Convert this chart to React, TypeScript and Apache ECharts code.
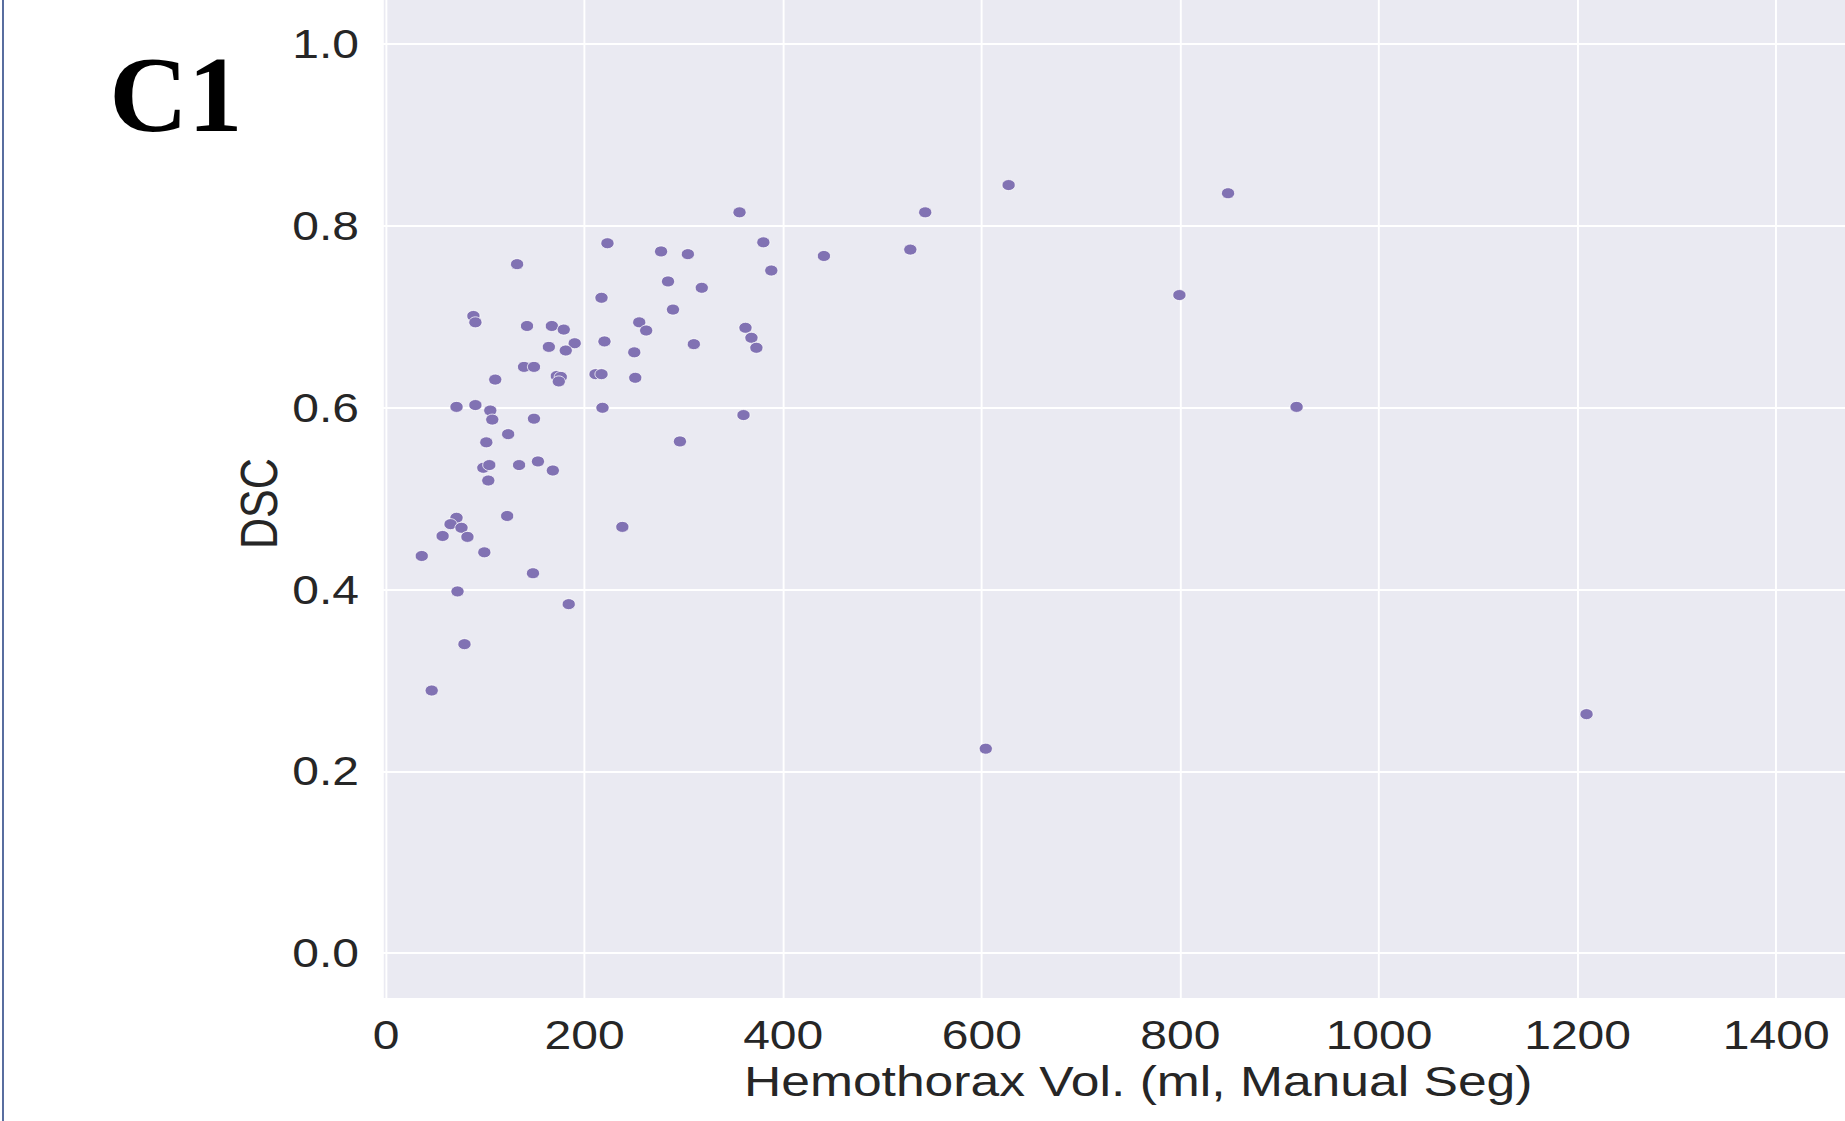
import React, { useEffect, useRef } from "react";
import * as echarts from "echarts";

// Hemothorax volume (ml, manual segmentation) for each case
const volumeMl = [
  356, 223, 277, 304, 380, 388, 132, 284, 318, 217,
  289, 88, 90, 142, 167, 179, 255, 262, 362, 368,
  373, 190, 220, 164, 181, 250, 310, 139, 149, 172,
  176, 174, 211, 217, 251, 110, 71, 90, 105, 107,
  149, 218, 360, 296, 123, 101, 98, 104, 134, 153,
  168, 103, 71, 65, 76, 57, 82, 36, 99, 122,
  148, 238, 72, 184, 79, 46, 441, 528, 543, 627,
  799, 848, 917, 604, 1209,
];

// Dice similarity coefficient for each case
const dscValues = [
  0.815, 0.781, 0.772, 0.769, 0.782, 0.751, 0.758, 0.739, 0.732, 0.721,
  0.708, 0.701, 0.694, 0.69, 0.69, 0.686, 0.694, 0.685, 0.688, 0.677,
  0.666, 0.671, 0.673, 0.667, 0.663, 0.661, 0.67, 0.645, 0.645, 0.635,
  0.634, 0.629, 0.637, 0.637, 0.633, 0.631, 0.601, 0.603, 0.597, 0.587,
  0.588, 0.6, 0.592, 0.563, 0.571, 0.562, 0.534, 0.537, 0.537, 0.541,
  0.531, 0.52, 0.479, 0.472, 0.468, 0.459, 0.458, 0.437, 0.441, 0.481,
  0.418, 0.469, 0.398, 0.384, 0.34, 0.289, 0.767, 0.774, 0.815, 0.845,
  0.724, 0.836, 0.601, 0.225, 0.263,
];

const panelLabel = "C1";
const xAxisTitle = "Hemothorax Vol. (ml, Manual Seg)";
const yAxisTitle = "DSC";

const STRETCH = 1.2;
const FONT = "'Liberation Sans', Arial, Helvetica, sans-serif";
const TEXT_COLOR = "#262626";

export default function App() {
  const ref = useRef<HTMLDivElement>(null);

  useEffect(() => {
    document.body.style.margin = "0";
    const el = ref.current;
    if (!el) return;
    const chart = echarts.init(el, null, { renderer: "svg" });
    const points = volumeMl.map((v, i) => [v, dscValues[i]]);

    chart.setOption({
      animation: false,
      backgroundColor: "#ffffff",
      grid: {
        left: 319.2,
        top: -1.3,
        width: 1258.6,
        height: 1000,
        show: true,
        backgroundColor: "#EAEAF2",
        borderWidth: 0,
        containLabel: false,
        outerBoundsMode: "none",
      },
      xAxis: {
        type: "value",
        min: -3,
        max: 1518,
        splitNumber: 7,
        minInterval: 200,
        maxInterval: 200,
        name: xAxisTitle,
        nameLocation: "middle",
        nameGap: 61,
        nameMoveOverlap: false,
        nameTextStyle: { fontSize: 43, color: TEXT_COLOR, fontFamily: FONT },
        axisLine: { show: false },
        axisTick: { show: false },
        axisLabel: {
          fontSize: 40,
          color: TEXT_COLOR,
          fontFamily: FONT,
          margin: 16,
          showMinLabel: false,
          showMaxLabel: false,
          hideOverlap: false,
          formatter: (v: number) => String(Math.round(v)),
        },
        splitLine: { show: true, lineStyle: { color: "#ffffff", width: 1.6 } },
      },
      yAxis: {
        type: "value",
        min: -0.05,
        max: 1.05,
        splitNumber: 5,
        minInterval: 0.2,
        maxInterval: 0.2,
        name: yAxisTitle,
        nameLocation: "middle",
        nameRotate: 90,
        nameGap: 82,
        nameMoveOverlap: false,
        nameTextStyle: {
          fontSize: 43,
          color: TEXT_COLOR,
          fontFamily: FONT,
          padding: [0, 10, 0, 0],
        },
        axisLine: { show: false },
        axisTick: { show: false },
        axisLabel: {
          fontSize: 40,
          color: TEXT_COLOR,
          fontFamily: FONT,
          margin: 20,
          showMinLabel: false,
          showMaxLabel: false,
          hideOverlap: false,
          formatter: (v: number) => v.toFixed(1),
        },
        splitLine: { show: true, lineStyle: { color: "#ffffff", width: 1.8 } },
      },
      series: [
        {
          type: "scatter",
          data: points,
          symbol: "circle",
          symbolSize: 11,
          itemStyle: {
            color: "#8172B3",
            borderColor: "#ffffff",
            borderWidth: 0.7,
            opacity: 1,
          },
          emphasis: { disabled: true },
        },
      ],
      graphic: [
        {
          type: "line",
          silent: true,
          shape: { x1: 2.5, y1: 0, x2: 2.5, y2: 1121 },
          style: { stroke: "#2a4585", lineWidth: 1.3 },
        },
        {
          type: "text",
          x: 91,
          y: 94,
          scaleX: 1 / STRETCH,
          silent: true,
          style: {
            text: panelLabel,
            fontFamily: "'Liberation Serif', 'Times New Roman', serif",
            fontWeight: "bold",
            fontSize: 109,
            fill: "#000000",
            align: "left",
            verticalAlign: "middle",
          },
        },
      ],
    });

    return () => chart.dispose();
  }, []);

  return (
    <div
      style={{
        position: "absolute",
        left: 0,
        top: 0,
        width: 1845,
        height: 1121,
        overflow: "hidden",
        background: "#ffffff",
      }}
    >
      <div
        ref={ref}
        style={{
          width: 1600,
          height: 1121,
          transform: `scaleX(${STRETCH})`,
          transformOrigin: "0 0",
        }}
      />
    </div>
  );
}
